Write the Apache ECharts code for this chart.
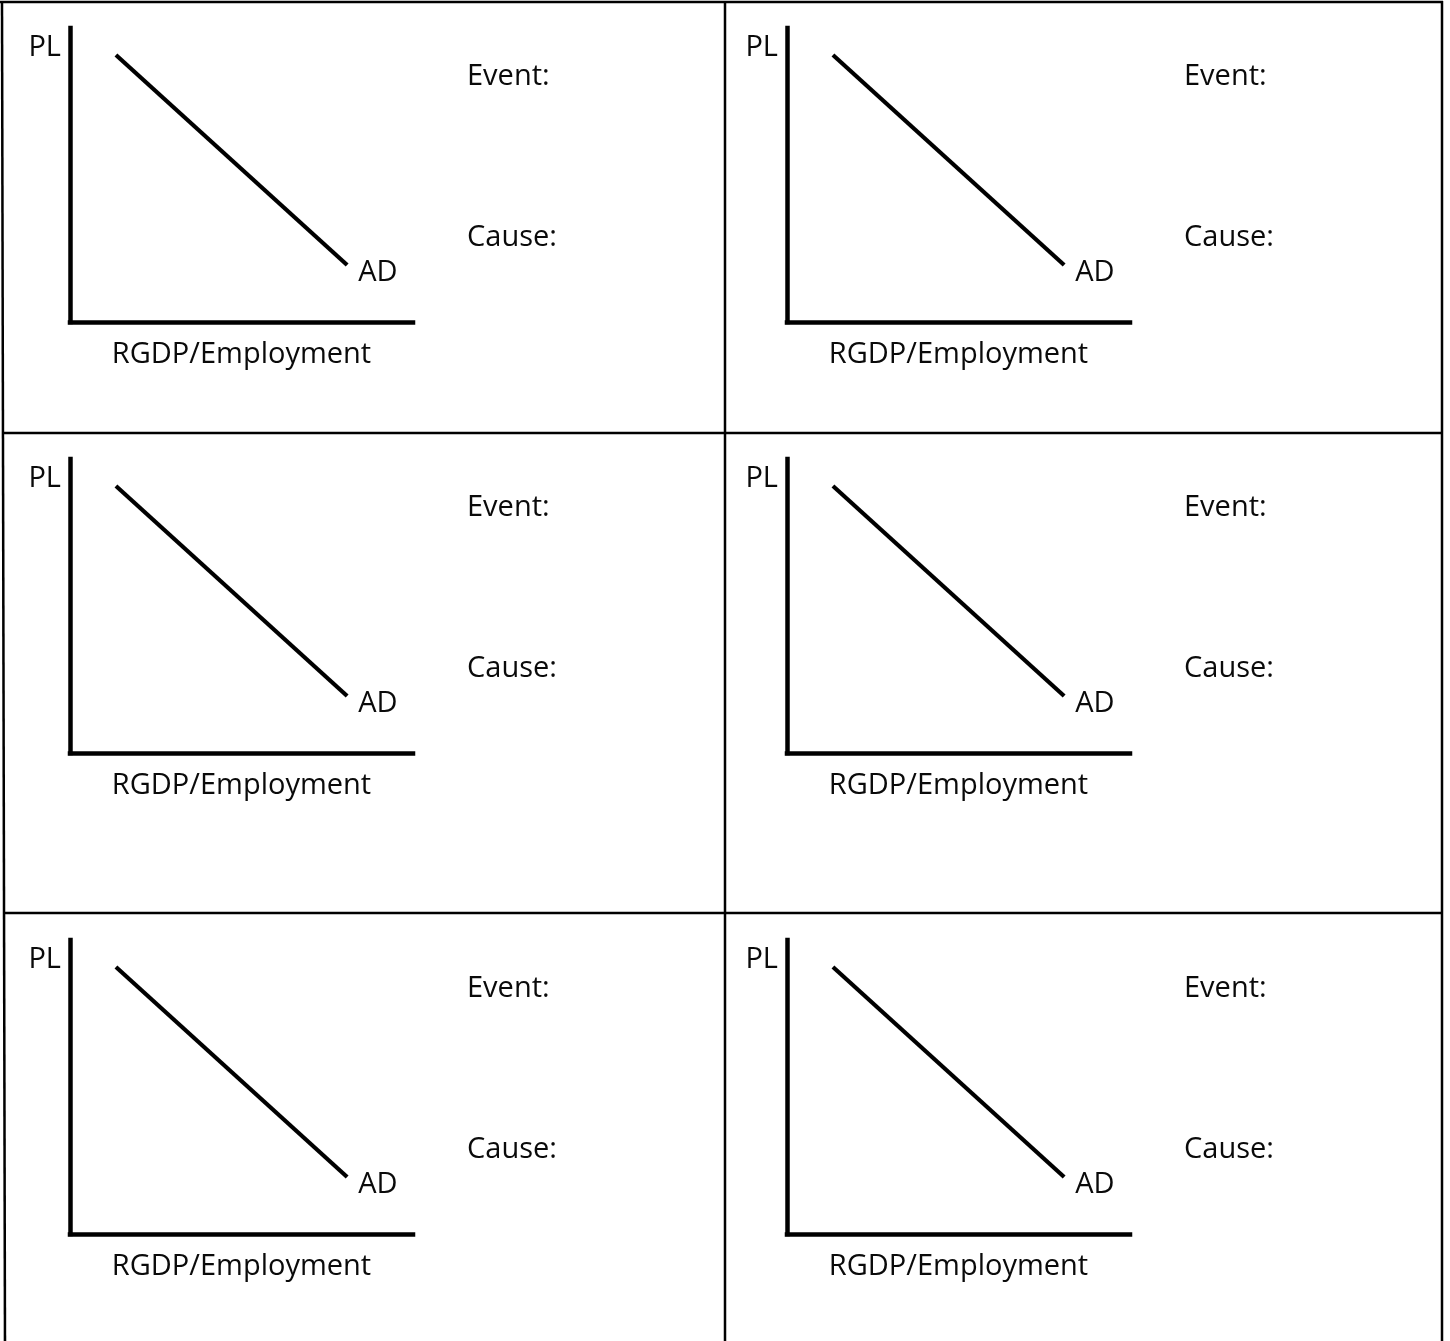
<!DOCTYPE html>
<html><head><meta charset="utf-8">
<script src="https://cdn.jsdelivr.net/npm/echarts@6/dist/echarts.min.js"></script>
<style>html,body{margin:0;padding:0;background:#fff}#c{width:1450px;height:1341px}</style>
</head><body><div id="c"></div>
<script>
// ---- data ----
const adX = [1.34, 8.08];
const adY = [9.08, 1.94];
const curveLabel = 'AD';
const yAxisLabel = 'PL';
const xAxisLabel = 'RGDP/Employment';
const eventLabel = 'Event:';
const causeLabel = 'Cause:';
const panelCount = 6;

// ---- layout ----
const colOffsets = [0, 717];
const rowOffsets = [0, 431, 912];
const FONT = '"Open Sans", "Noto Sans", sans-serif';
const FS = 29;
const TXT = '#0a0a0a';

const grids = [], xAxes = [], yAxes = [], series = [], graphics = [];
for (let i = 0; i < panelCount; i++) {
  const dx = colOffsets[i % 2], dy = rowOffsets[Math.floor(i / 2)];
  grids.push({ left: 70 + dx, top: 28 + dy, width: 343, height: 294, containLabel: false });
  const axisLine = { show: true, onZero: false, lineStyle: { color: '#000', width: 4.5, cap: 'square' } };
  xAxes.push({
    gridIndex: i, type: 'value', min: 0, max: 10,
    axisLine, axisTick: { show: false }, axisLabel: { show: false }, splitLine: { show: false },
    name: xAxisLabel, nameLocation: 'middle', nameGap: 18,
    nameTextStyle: { fontFamily: FONT, fontSize: FS, color: TXT, verticalAlign: 'top' }
  });
  yAxes.push({
    gridIndex: i, type: 'value', min: 0, max: 10,
    axisLine, axisTick: { show: false }, axisLabel: { show: false }, splitLine: { show: false }
  });
  series.push({
    type: 'line', xAxisIndex: i, yAxisIndex: i,
    data: adX.map((x, k) => [x, adY[k]]),
    symbol: 'none', silent: true, animation: false,
    lineStyle: { color: '#000', width: 4.2 },
    endLabel: { show: true, formatter: curveLabel, fontFamily: FONT, fontSize: FS, color: TXT, distance: 11, offset: [0, 8] }
  });
  graphics.push(
    { type: 'text', x: 61 + dx, y: 48 + dy, style: { text: yAxisLabel, font: `${FS}px ${FONT}`, fill: TXT, align: 'right', verticalAlign: 'middle' } },
    { type: 'text', x: 467 + dx, y: 77 + dy, style: { text: eventLabel, font: `${FS}px ${FONT}`, fill: TXT, align: 'left', verticalAlign: 'middle' } },
    { type: 'text', x: 467 + dx, y: 238 + dy, style: { text: causeLabel, font: `${FS}px ${FONT}`, fill: TXT, align: 'left', verticalAlign: 'middle' } }
  );
}
// table borders
const B = { stroke: '#000', lineWidth: 2.5 };
graphics.push(
  { type: 'line', shape: { x1: 0, y1: 2, x2: 1443, y2: 2 }, style: B },
  { type: 'line', shape: { x1: 2, y1: 1, x2: 5, y2: 1341 }, style: B },
  { type: 'line', shape: { x1: 1442, y1: 1, x2: 1442, y2: 1341 }, style: B },
  { type: 'line', shape: { x1: 2, y1: 433, x2: 1443, y2: 433 }, style: B },
  { type: 'line', shape: { x1: 4, y1: 913, x2: 1443, y2: 913 }, style: B },
  { type: 'line', shape: { x1: 725, y1: 1, x2: 725, y2: 1341 }, style: B }
);

const chart = echarts.init(document.getElementById('c'), null, { renderer: 'canvas' });
chart.setOption({
  animation: false,
  backgroundColor: '#fff',
  grid: grids, xAxis: xAxes, yAxis: yAxes, series,
  graphic: graphics
});
</script></body></html>
